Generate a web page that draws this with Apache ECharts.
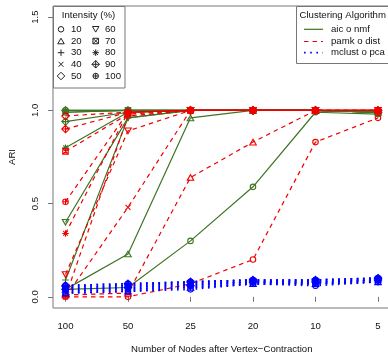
<!DOCTYPE html>
<html><head><meta charset="utf-8">
<script src="https://cdn.jsdelivr.net/npm/echarts@6/dist/echarts.min.js"></script>
<style>html,body{margin:0;padding:0;background:#fff}#c{width:388px;height:353px}</style>
</head><body><div id="c"></div>
<script>
const xLabels = ['100','50','25','20','10','5'];
const intensities = [10,20,30,40,50,60,70,80,90,100];
const yTicks = [0, 0.5, 1.0, 1.5];
const algorithms = ['aic o nmf','pamk o dist','mclust o pca'];
// one row per intensity, columns follow xLabels
const aicNmf = [
 [0.04,0.05,0.30,0.59,0.99,0.98],
 [0.04,0.23,0.96,1.00,1.00,0.99],
 [0.09,0.96,1.00,1.00,1.00,0.99],
 [0.99,1.00,1.00,1.00,1.00,0.99],
 [1.00,1.00,1.00,1.00,1.00,0.99],
 [0.40,0.96,1.00,1.00,1.00,0.99],
 [0.99,1.00,1.00,1.00,1.00,0.99],
 [0.80,0.99,1.00,1.00,1.00,0.99],
 [0.94,0.99,1.00,1.00,1.00,0.99],
 [1.00,1.00,1.00,1.00,1.00,0.99]
];
const pamkDist = [
 [0.00,0.00,0.07,0.20,0.83,0.96],
 [0.01,0.02,0.64,0.83,1.00,1.00],
 [0.00,0.97,1.00,1.00,1.00,1.00],
 [0.00,0.48,1.00,1.00,1.00,1.00],
 [0.97,0.99,1.00,1.00,1.00,1.00],
 [0.12,0.89,1.00,1.00,1.00,1.00],
 [0.78,0.98,1.00,1.00,1.00,1.00],
 [0.34,0.99,1.00,1.00,1.00,1.00],
 [0.90,0.99,1.00,1.00,1.00,1.00],
 [0.51,0.99,1.00,1.00,1.00,1.00]
];
const mclustPca = [
 [0.02,0.03,0.04,0.07,0.06,0.08],
 [0.02,0.03,0.05,0.07,0.07,0.08],
 [0.03,0.04,0.05,0.07,0.07,0.08],
 [0.03,0.04,0.06,0.08,0.07,0.09],
 [0.04,0.05,0.06,0.08,0.08,0.09],
 [0.04,0.05,0.07,0.08,0.08,0.09],
 [0.05,0.06,0.07,0.08,0.08,0.09],
 [0.05,0.06,0.08,0.09,0.09,0.10],
 [0.06,0.07,0.08,0.09,0.09,0.10],
 [0.06,0.07,0.08,0.09,0.09,0.10]
];

const symPaths = [
 'M0,5A5,5,0,1,1,10,5A5,5,0,1,1,0,5Z',
 'M5,0L10,8.66L0,8.66Z',
 'M0,5H10M5,0V10',
 'M0,0L10,10M10,0L0,10',
 'M5,0L10,5L5,10L0,5Z',
 'M0,0L10,0L5,8.66Z',
 'M0,0H10V10H0ZM0,0L10,10M10,0L0,10',
 'M0,5H10M5,0V10M1.5,1.5L8.5,8.5M8.5,1.5L1.5,8.5',
 'M5,0L10,5L5,10L0,5ZM0,5H10M5,0V10',
 'M0,5A5,5,0,1,1,10,5A5,5,0,1,1,0,5ZM0,5H10M5,0V10'
];
const symSizes = [[5.5,5.5],[6.5,5.6],[6.5,6.5],[5,5],[7.5,7.5],[6.5,5.6],[5.5,5.5],[6.5,6.5],[7.5,7.5],[5.5,5.5]];
// same shapes as primitive parts (for the legend), in the same 10-unit boxes
const symParts = [
 {bh:10, parts:[{c:1}]},
 {bh:8.66, parts:[{poly:[[5,0],[10,8.66],[0,8.66]]}]},
 {bh:10, parts:[{l:[0,5,10,5]},{l:[5,0,5,10]}]},
 {bh:10, parts:[{l:[0,0,10,10]},{l:[10,0,0,10]}]},
 {bh:10, parts:[{poly:[[5,0],[10,5],[5,10],[0,5]]}]},
 {bh:8.66, parts:[{poly:[[0,0],[10,0],[5,8.66]]}]},
 {bh:10, parts:[{poly:[[0,0],[10,0],[10,10],[0,10]]},{l:[0,0,10,10]},{l:[10,0,0,10]}]},
 {bh:10, parts:[{l:[0,5,10,5]},{l:[5,0,5,10]},{l:[1.5,1.5,8.5,8.5]},{l:[8.5,1.5,1.5,8.5]}]},
 {bh:10, parts:[{poly:[[5,0],[10,5],[5,10],[0,5]]},{l:[0,5,10,5]},{l:[5,0,5,10]}]},
 {bh:10, parts:[{c:1},{l:[0,5,10,5]},{l:[5,0,5,10]}]}
];

const algStyle = [
 {data: aicNmf, color:'#3f7424', line:{width:1.2, type:'solid'}},
 {data: pamkDist, color:'#f00000', line:{width:1.2, type:[4.5,4]}},
 {data: mclustPca, color:'#0000ff', line:{width:1.8, type:[1.6,4.6]}}
];

const series = [];
algStyle.forEach((a, ai) => {
  a.data.forEach((vals, ii) => {
    series.push({
      type:'line', name: algorithms[ai] + ' ' + intensities[ii],
      data: vals.map((v,k)=>[k+1, v]),
      symbol: 'path://' + symPaths[ii], symbolSize: symSizes[ii],
      showSymbol: true, animation:false, silent:true,
      lineStyle:{color:a.color, width:a.line.width, type:a.line.type, cap:'butt'},
      itemStyle:{color:'rgba(0,0,0,0)', borderColor:a.color, borderWidth:1.1},
      z: 2 + ai
    });
  });
});

const txt = '#111', boxc = '#777', fs = 9.6, ff = '"Liberation Sans", Arial, sans-serif';
const graphic = [];
function legendSymbol(i, cx, cy) {
  const w = symSizes[i][0], h = symSizes[i][1], sp = symParts[i];
  const sx = w/10, sy = h/sp.bh, x0 = cx - w/2, y0 = cy - h/2;
  const st = {fill:'none', stroke:'#222', lineWidth:1};
  sp.parts.forEach(p => {
    if (p.c) graphic.push({type:'circle', z:101, shape:{cx:cx, cy:cy, r:w/2}, style:st});
    else if (p.poly) graphic.push({type:'polygon', z:101, shape:{points:p.poly.map(q=>[x0+q[0]*sx, y0+q[1]*sy])}, style:st});
    else graphic.push({type:'line', z:101, shape:{x1:x0+p.l[0]*sx, y1:y0+p.l[1]*sy, x2:x0+p.l[2]*sx, y2:y0+p.l[3]*sy}, style:st});
  });
}
graphic.push({type:'rect', z:100, shape:{x:53.5,y:6.5,width:71.5,height:81.5}, style:{fill:'#fff',stroke:boxc,lineWidth:1}});
graphic.push({type:'text', z:101, style:{text:'Intensity (%)', x:88.5, y:15.5, align:'center', verticalAlign:'middle', fill:txt, font: fs+'px '+ff}});
const rows = [29.3, 41, 52.7, 64.3, 76];
for (let i=0;i<10;i++){
  const col = i<5?0:1, r = rows[i%5];
  const cx = col===0?61:95.7, tx = col===0?71:105;
  legendSymbol(i, cx, r);
  graphic.push({type:'text', z:101, style:{text:String(intensities[i]), x:tx, y:r, align:'left', verticalAlign:'middle', fill:txt, font: fs+'px '+ff}});
}
graphic.push({type:'rect', z:100, shape:{x:296.5,y:6.5,width:100,height:57}, style:{fill:'#fff',stroke:boxc,lineWidth:1}});
graphic.push({type:'text', z:101, style:{text:'Clustering Algorithm', x:299.5, y:15.5, align:'left', verticalAlign:'middle', fill:txt, font: fs+'px '+ff}});
const lrows = [29.3, 41.5, 52.7];
algStyle.forEach((a, ai) => {
  graphic.push({type:'line', z:101, shape:{x1:304, y1:lrows[ai], x2:323, y2:lrows[ai]}, style:{stroke:a.color, lineWidth:a.line.width, lineDash: a.line.type==='solid'?null:a.line.type}});
  graphic.push({type:'text', z:101, style:{text:algorithms[ai], x:331, y:lrows[ai], align:'left', verticalAlign:'middle', fill:txt, font: fs+'px '+ff}});
});

const chart = echarts.init(document.getElementById('c'), null, {renderer:'canvas'});
chart.setOption({
  animation:false,
  backgroundColor:'#fff',
  grid:{left:53, top:6, width:337.5, height:302, containLabel:false, outerBoundsMode:'none', show:true, borderColor:boxc, borderWidth:1, backgroundColor:'transparent'},
  xAxis:{type:'value', min:0.8, max:6.2,
    name:'Number of Nodes after Vertex\u2212Contraction', nameLocation:'middle', nameGap:36,
    nameTextStyle:{color:txt, fontSize:fs, fontFamily:ff},
    axisLine:{show:false}, splitLine:{show:false},
    axisTick:{show:true, length:5, lineStyle:{color:boxc}, customValues:[1,2,3,4,5,6]},
    axisLabel:{color:txt, fontSize:fs, fontFamily:ff, margin:13, customValues:[1,2,3,4,5,6], formatter:(v)=>xLabels[Math.round(v)-1]}
  },
  yAxis:{type:'value', min:-0.06, max:1.56,
    name:'ARI', nameLocation:'middle', nameGap:36,
    nameTextStyle:{color:txt, fontSize:fs, fontFamily:ff},
    axisLine:{show:false}, splitLine:{show:false},
    axisTick:{show:true, length:5, lineStyle:{color:boxc}, customValues:yTicks},
    axisLabel:{color:txt, fontSize:fs, fontFamily:ff, margin:13, rotate:90, customValues:yTicks, formatter:(v)=>v.toFixed(1)}
  },
  series: series,
  graphic: graphic
});
</script></body></html>
